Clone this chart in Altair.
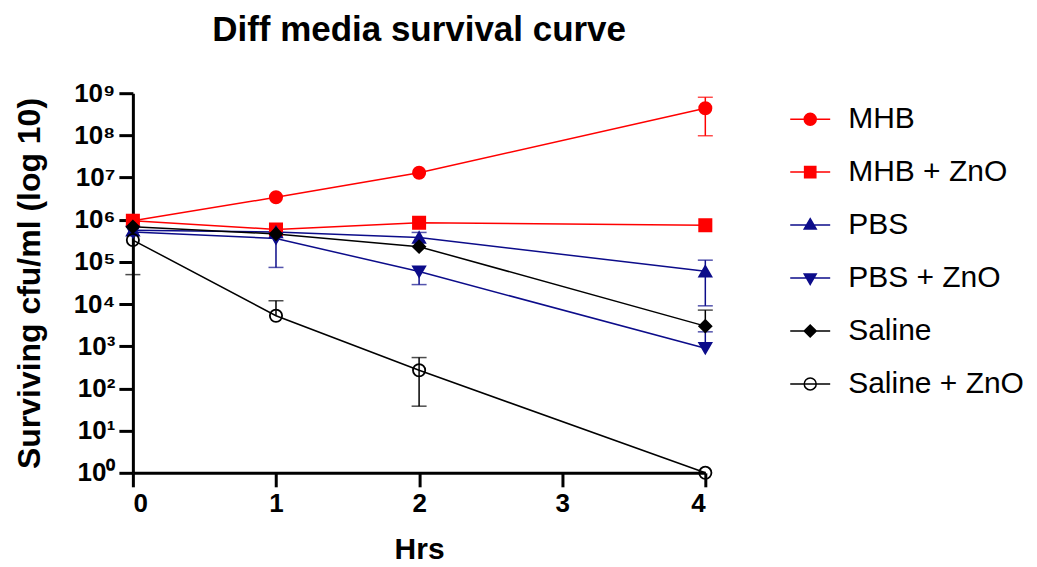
import altair as alt
import pandas as pd

# ---- data ----
series_names = ["MHB", "MHB + ZnO", "PBS", "PBS + ZnO", "Saline", "Saline + ZnO"]
hours = [0, 1, 2, 4]
mhb = [9.5e5, 3.4e6, 1.3e7, 4.4e8]
mhb_zno = [9.5e5, 5.9e5, 8.5e5, 7.4e5]
pbs = [5.6e5, 5.1e5, 3.8e5, 6.0e4]
pbs_zno = [5.1e5, 3.6e5, 5.9e4, 9.0e2]
saline = [6.8e5, 4.6e5, 2.3e5, 3.0e3]
saline_zno = [3.3e5, 5.3e3, 2.7e2, 1.0]

# visible error bars: series, hour, lower, upper
err_series = ["MHB", "PBS", "PBS", "PBS + ZnO", "PBS + ZnO", "PBS + ZnO", "Saline",
              "Saline + ZnO", "Saline + ZnO", "Saline + ZnO"]
err_hour = [4, 2, 4, 1, 2, 4, 4, 0, 1, 2]
err_lo = [9.8e7, 3.8e5, 9.1e3, 7.4e4, 2.9e4, 9.0e2, 3.0e3, 5.0e4, 5.3e3, 3.8e1]
err_hi = [8.0e8, 5.0e5, 1.1e5, 3.6e5, 5.9e4, 2.2e3, 7.2e3, 3.3e5, 1.2e4, 5.4e2]
err_value = [4.4e8, 3.8e5, 6.0e4, 3.6e5, 5.9e4, 9.0e2, 3.0e3, 3.3e5, 5.3e3, 2.7e2]

y_tick_values = [1, 10, 100, 1e3, 1e4, 1e5, 1e6, 1e7, 1e8, 1e9]
y_tick_labels = ["10⁰", "10¹", "10²", "10³", "10⁴", "10⁵", "10⁶", "10⁷", "10⁸", "10⁹"]
x_tick_values = [0, 1, 2, 3, 4]

colors = ["#ff0000", "#ff0000", "#0c0c8a", "#0c0c8a", "#000000", "#000000"]
fills = ["#ff0000", "#ff0000", "#0c0c8a", "#0c0c8a", "#000000", "transparent"]
point_shapes = ["circle", "square", "triangle-up", "triangle-down", "diamond", "circle"]
legend_shapes = [
    "M-1,0L1,0M-0.3,0A0.3,0.3,0,1,0,0.3,0A0.3,0.3,0,1,0,-0.3,0Z",
    "M-1,0L1,0M-0.28,-0.28L0.28,-0.28L0.28,0.28L-0.28,0.28Z",
    "M-1,0L1,0M0,-0.32L0.3,0.2L-0.3,0.2Z",
    "M-1,0L1,0M0,0.32L0.3,-0.2L-0.3,-0.2Z",
    "M-1,0L1,0M0,-0.3L0.3,0L0,0.3L-0.3,0Z",
    "M-1,0L1,0M-0.3,0A0.3,0.3,0,1,0,0.3,0A0.3,0.3,0,1,0,-0.3,0Z",
]

values = [mhb, mhb_zno, pbs, pbs_zno, saline, saline_zno]
rows = []
for name, vals in zip(series_names, values):
    for h, v in zip(hours, vals):
        rows.append({"series": name, "hour": h, "cfu": v})
df = pd.DataFrame(rows)

err_df = pd.DataFrame({"series": err_series, "hour": err_hour,
                       "lo": err_lo, "hi": err_hi, "val": err_value})
cap_rows = []
for r in err_df.itertuples():
    if r.lo < r.val:
        cap_rows.append({"series": r.series, "hour": r.hour, "cap": r.lo})
    if r.hi > r.val:
        cap_rows.append({"series": r.series, "hour": r.hour, "cap": r.hi})
cap_df = pd.DataFrame(cap_rows)

FONT = "Liberation Sans"
label_js = "[" + ",".join("'" + s + "'" for s in y_tick_labels) + "]"

x_enc = alt.X("hour:Q",
              scale=alt.Scale(domain=[0, 4], nice=False, zero=False),
              axis=alt.Axis(values=x_tick_values, title="Hrs", format="d"))
y_enc = alt.Y("cfu:Q",
              scale=alt.Scale(type="log", domain=[1, 1e9], nice=False),
              axis=alt.Axis(values=y_tick_values, title="Surviving cfu/ml (log 10)",
                            labelExpr=label_js + "[round(log(datum.value)/LN10)]"))

stroke_scale = alt.Scale(domain=series_names, range=colors)
fill_scale = alt.Scale(domain=series_names, range=fills)

lines = alt.Chart(df).mark_line(strokeWidth=1.5).encode(
    x=x_enc, y=y_enc,
    stroke=alt.Stroke("series:N", scale=stroke_scale, legend=None),
    detail="series:N",
)

rules = alt.Chart(err_df).mark_rule(strokeWidth=1.5).encode(
    x="hour:Q", y="lo:Q", y2="hi:Q",
    stroke=alt.Stroke("series:N", scale=stroke_scale, legend=None),
)

caps = alt.Chart(cap_df).mark_tick(orient="horizontal", size=15, thickness=1.5).encode(
    x="hour:Q", y="cap:Q",
    fill=alt.Fill("series:N", scale=stroke_scale, legend=None),
)

points = alt.Chart(df).mark_point(size=150, strokeWidth=1.8, opacity=1).encode(
    x="hour:Q", y="cfu:Q",
    shape=alt.Shape("series:N", scale=alt.Scale(domain=series_names, range=point_shapes), legend=None),
    stroke=alt.Stroke("series:N", scale=stroke_scale, legend=None),
    fill=alt.Fill("series:N", scale=fill_scale, legend=None),
)


def make_legend():
    return alt.Legend(title=None, orient="none", legendX=657, legendY=5,
                      symbolSize=1600, symbolStrokeWidth=1.5, symbolOpacity=1,
                      labelFontSize=30, labelFont=FONT, labelColor="black",
                      rowPadding=17, labelOffset=17, labelLimit=400)


legend_layer = alt.Chart(df).mark_point(size=140, opacity=0).encode(
    x="hour:Q", y="cfu:Q",
    shape=alt.Shape("series:N", scale=alt.Scale(domain=series_names, range=legend_shapes),
                    legend=make_legend()),
    stroke=alt.Stroke("series:N", scale=stroke_scale, legend=make_legend()),
    fill=alt.Fill("series:N", scale=fill_scale, legend=make_legend()),
)

chart = alt.layer(lines, rules, caps, points, legend_layer).resolve_scale(
    shape="independent", stroke="independent", fill="independent"
).resolve_legend(
    shape="independent", stroke="independent", fill="independent"
).properties(
    width=573, height=380,
    padding={"left": 5, "top": 5, "right": 5, "bottom": 0},
    title=alt.TitleParams("Diff media survival curve", fontSize=35, font=FONT,
                          fontWeight="bold", anchor="middle", offset=32, color="black"),
).configure_view(stroke=None).configure_axis(
    grid=False, domainColor="black", domainWidth=3, tickColor="black", tickWidth=3,
    tickSize=14, labelFont=FONT, labelFontSize=26, labelFontWeight="bold",
    labelColor="black", titleFont=FONT, titleFontSize=30, titleFontWeight="bold",
    titleColor="black", labelPadding=4,
).configure_axisY(titleFontSize=32, titlePadding=27).configure_axisX(titlePadding=18)

chart.save("out.html", embed_options={"renderer": "svg", "actions": False})
